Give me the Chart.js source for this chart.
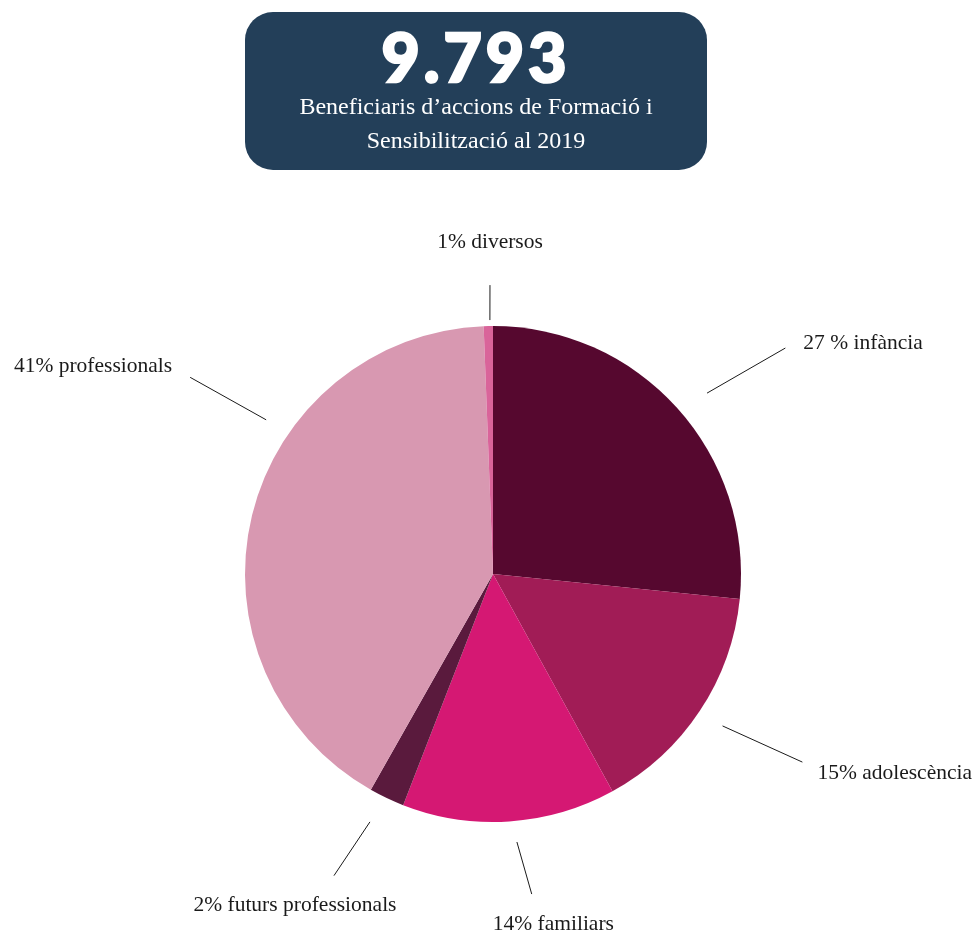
<!DOCTYPE html>
<html>
<head>
<meta charset="utf-8">
<script src="https://cdn.jsdelivr.net/npm/chart.js@4.4.1/dist/chart.umd.min.js"></script>
<style>
  html, body { margin: 0; padding: 0; background: #ffffff; }
  #wrap { position: relative; width: 976px; height: 933px; overflow: hidden; }
  #c { position: absolute; left: 0; top: 0; }
  #box {
    position: absolute; left: 245px; top: 12px; width: 462px; height: 158px;
    background: #233f59; border-radius: 28px; color: #ffffff; text-align: center;
  }
  #big {
    position: absolute; left: 0; right: 0; top: 5px;
    font-family: "Lato", "Open Sans", sans-serif; font-weight: 900; font-size: 66px;
    line-height: 80px; letter-spacing: 4px;
    -webkit-text-stroke: 2.5px #ffffff;
  }
  #sub {
    position: absolute; left: 0; right: 0; top: 77px;
    font-family: "Liberation Serif", "DejaVu Serif", serif; font-size: 24px; line-height: 34px;
  }
</style>
</head>
<body>
<div id="wrap">
  <canvas id="c" width="976" height="933"></canvas>
  <div id="box">
    <div id="big">9.793</div>
    <div id="sub">Beneficiaris d’accions de Formació i<br>Sensibilització al 2019</div>
  </div>
</div>
<script>
// ---- data ----
const categories = ["infància", "adolescència", "familiars", "futurs professionals", "professionals", "diversos"];
const values = [26.6, 15.4, 13.9, 2.3, 41.2, 0.6];
const labelTexts = ["27 % infància", "15% adolescència", "14% familiars", "2% futurs professionals", "41% professionals", "1% diversos"];
const colors = ["#56082f", "#a11c56", "#d51873", "#5a1a3d", "#d898b1", "#d9649a"];

// leader line layout (polar, relative to pie centre; radius in multiples of pie radius)
// [startAngleDeg, startR, endAngleDeg, endR, textDx, textDy, align]
const leaders = [
  [49.8, 1.13, 52.3, 1.49, 18, -5, "left"],
  [123.5, 1.11, 121.3, 1.46, 15, 11, "left"],
  [174.9, 1.085, 173.1, 1.30, -39, 30, "left"],
  [206.4, 1.116, 207.8, 1.375, -39, 30, "center"],
  [304.2, 1.106, 303.0, 1.456, -18, -11, "right"],
  [359.3, 1.024, 359.4, 1.165, 0, -43, "center"]
];

const leaderPlugin = {
  id: "leaders",
  afterDatasetsDraw(chart) {
    const ctx = chart.ctx;
    const arc = chart.getDatasetMeta(0).data[0];
    const cx = arc.x, cy = arc.y, R = arc.outerRadius;
    const pt = (deg, r) => {
      const a = deg * Math.PI / 180;
      return [cx + Math.sin(a) * r * R, cy - Math.cos(a) * r * R];
    };
    ctx.save();
    ctx.strokeStyle = "#1a1a1a";
    ctx.lineWidth = 1;
    ctx.fillStyle = "#1a1a1a";
    ctx.font = "21.5px 'Liberation Serif', 'DejaVu Serif', serif";
    ctx.textBaseline = "middle";
    leaders.forEach((l, i) => {
      const s = pt(l[0], l[1]);
      const e = pt(l[2], l[3]);
      ctx.beginPath();
      ctx.moveTo(s[0], s[1]);
      ctx.lineTo(e[0], e[1]);
      ctx.stroke();
      ctx.textAlign = l[6];
      ctx.fillText(labelTexts[i], e[0] + l[4], e[1] + l[5]);
    });
    ctx.restore();
  }
};

new Chart(document.getElementById("c"), {
  type: "pie",
  data: {
    labels: categories,
    datasets: [{
      data: values,
      backgroundColor: colors,
      borderWidth: 0
    }]
  },
  options: {
    responsive: false,
    animation: false,
    layout: { padding: { left: 245, right: 235, top: 326, bottom: 111 } },
    plugins: { legend: { display: false }, tooltip: { enabled: false } }
  },
  plugins: [leaderPlugin]
});
</script>
</body>
</html>
